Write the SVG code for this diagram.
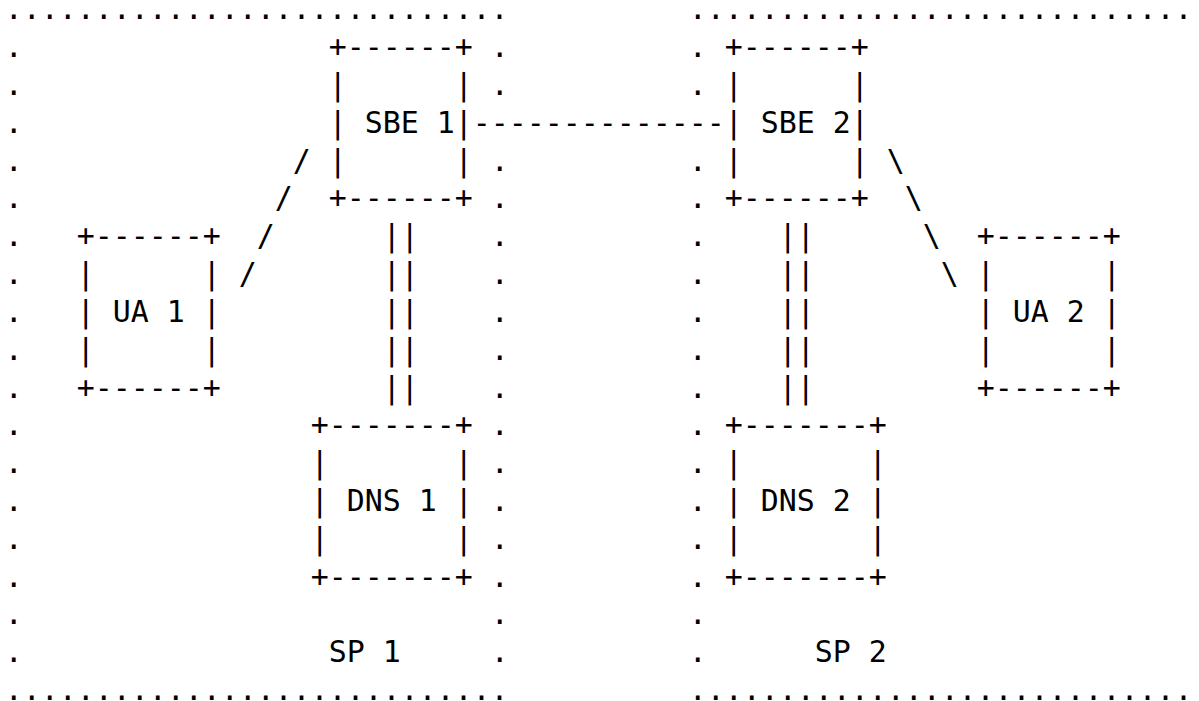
<svg xmlns="http://www.w3.org/2000/svg" width="1199" height="701" viewBox="0 0 1199 701" xml:space="preserve">
<style>
text { font-family: "DejaVu Sans Mono", "Liberation Mono", monospace; font-size: 29.9px; fill: #000; white-space: pre; }
</style>
<rect width="1199" height="701" fill="#fff"/>
<g id="sp1">
<text x="4.7" y="19.2">............................</text>
<text x="4.7" y="700.14">............................</text>
<text><tspan x="4.7" y="57.03">.</tspan><tspan x="4.7" y="94.86">.</tspan><tspan x="4.7" y="132.69">.</tspan><tspan x="4.7" y="170.52">.</tspan><tspan x="4.7" y="208.35">.</tspan><tspan x="4.7" y="246.18">.</tspan><tspan x="4.7" y="284.01">.</tspan><tspan x="4.7" y="321.84">.</tspan><tspan x="4.7" y="359.67">.</tspan><tspan x="4.7" y="397.5">.</tspan><tspan x="4.7" y="435.33">.</tspan><tspan x="4.7" y="473.16">.</tspan><tspan x="4.7" y="510.99">.</tspan><tspan x="4.7" y="548.82">.</tspan><tspan x="4.7" y="586.65">.</tspan><tspan x="4.7" y="624.48">.</tspan><tspan x="4.7" y="662.31">.</tspan></text>
<text><tspan x="490.7" y="57.03">.</tspan><tspan x="490.7" y="94.86">.</tspan><tspan x="490.7" y="170.52">.</tspan><tspan x="490.7" y="208.35">.</tspan><tspan x="490.7" y="246.18">.</tspan><tspan x="490.7" y="284.01">.</tspan><tspan x="490.7" y="321.84">.</tspan><tspan x="490.7" y="359.67">.</tspan><tspan x="490.7" y="397.5">.</tspan><tspan x="490.7" y="435.33">.</tspan><tspan x="490.7" y="473.16">.</tspan><tspan x="490.7" y="510.99">.</tspan><tspan x="490.7" y="548.82">.</tspan><tspan x="490.7" y="586.65">.</tspan><tspan x="490.7" y="624.48">.</tspan><tspan x="490.7" y="662.31">.</tspan></text>
<text x="328.7" y="662.31">SP 1</text>
</g>
<g id="sp2">
<text x="688.7" y="19.2">............................</text>
<text x="688.7" y="700.14">............................</text>
<text><tspan x="688.7" y="57.03">.</tspan><tspan x="688.7" y="94.86">.</tspan><tspan x="688.7" y="170.52">.</tspan><tspan x="688.7" y="208.35">.</tspan><tspan x="688.7" y="246.18">.</tspan><tspan x="688.7" y="284.01">.</tspan><tspan x="688.7" y="321.84">.</tspan><tspan x="688.7" y="359.67">.</tspan><tspan x="688.7" y="397.5">.</tspan><tspan x="688.7" y="435.33">.</tspan><tspan x="688.7" y="473.16">.</tspan><tspan x="688.7" y="510.99">.</tspan><tspan x="688.7" y="548.82">.</tspan><tspan x="688.7" y="586.65">.</tspan><tspan x="688.7" y="624.48">.</tspan><tspan x="688.7" y="662.31">.</tspan></text>
<text x="814.7" y="662.31">SP 2</text>
</g>
<g id="sbe1">
<text><tspan x="328.7" y="57.03">+------+</tspan><tspan x="328.7" y="94.86">|      |</tspan><tspan x="328.7" y="132.69">| SBE 1|</tspan><tspan x="328.7" y="170.52">|      |</tspan><tspan x="328.7" y="208.35">+------+</tspan></text>
</g>
<g id="sbe2">
<text><tspan x="724.7" y="57.03">+------+</tspan><tspan x="724.7" y="94.86">|      |</tspan><tspan x="724.7" y="132.69">| SBE 2|</tspan><tspan x="724.7" y="170.52">|      |</tspan><tspan x="724.7" y="208.35">+------+</tspan></text>
</g>
<g id="ua1">
<text><tspan x="76.7" y="246.18">+------+</tspan><tspan x="76.7" y="284.01">|      |</tspan><tspan x="76.7" y="321.84">| UA 1 |</tspan><tspan x="76.7" y="359.67">|      |</tspan><tspan x="76.7" y="397.5">+------+</tspan></text>
</g>
<g id="ua2">
<text><tspan x="976.7" y="246.18">+------+</tspan><tspan x="976.7" y="284.01">|      |</tspan><tspan x="976.7" y="321.84">| UA 2 |</tspan><tspan x="976.7" y="359.67">|      |</tspan><tspan x="976.7" y="397.5">+------+</tspan></text>
</g>
<g id="dns1">
<text><tspan x="310.7" y="435.33">+-------+</tspan><tspan x="310.7" y="473.16">|       |</tspan><tspan x="310.7" y="510.99">| DNS 1 |</tspan><tspan x="310.7" y="548.82">|       |</tspan><tspan x="310.7" y="586.65">+-------+</tspan></text>
</g>
<g id="dns2">
<text><tspan x="724.7" y="435.33">+-------+</tspan><tspan x="724.7" y="473.16">|       |</tspan><tspan x="724.7" y="510.99">| DNS 2 |</tspan><tspan x="724.7" y="548.82">|       |</tspan><tspan x="724.7" y="586.65">+-------+</tspan></text>
</g>
<g id="connectors">
<text x="472.7" y="132.69">--------------</text>
<text><tspan x="292.7" y="170.52">/</tspan><tspan x="274.7" y="208.35">/</tspan><tspan x="256.7" y="246.18">/</tspan><tspan x="238.7" y="284.01">/</tspan></text>
<text><tspan x="886.7" y="170.52">\</tspan><tspan x="904.7" y="208.35">\</tspan><tspan x="922.7" y="246.18">\</tspan><tspan x="940.7" y="284.01">\</tspan></text>
<text><tspan x="382.7" y="246.18">||</tspan><tspan x="382.7" y="284.01">||</tspan><tspan x="382.7" y="321.84">||</tspan><tspan x="382.7" y="359.67">||</tspan><tspan x="382.7" y="397.5">||</tspan></text>
<text><tspan x="778.7" y="246.18">||</tspan><tspan x="778.7" y="284.01">||</tspan><tspan x="778.7" y="321.84">||</tspan><tspan x="778.7" y="359.67">||</tspan><tspan x="778.7" y="397.5">||</tspan></text>
</g>
</svg>
